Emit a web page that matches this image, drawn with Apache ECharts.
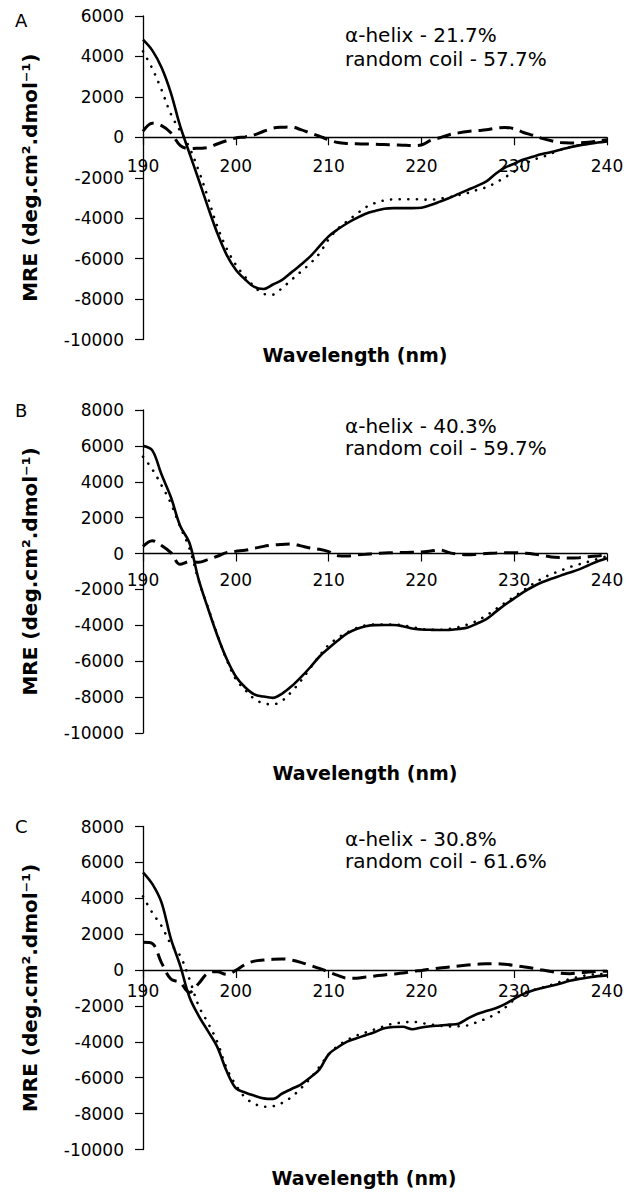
<!DOCTYPE html>
<html><head><meta charset="utf-8">
<script src="https://cdn.jsdelivr.net/npm/echarts@6/dist/echarts.min.js"></script>
<style>html,body{margin:0;padding:0;background:#fff}#c{width:629px;height:1201px}</style>
</head><body><div id="c"></div>
<script>
// ---- data ----
const wavelength = [190,191,192,193,194,195,196,197,198,199,200,201,202,203,204,205,206,207,208,209,210,211,212,213,214,215,216,217,218,219,220,221,222,223,224,225,226,227,228,229,230,231,232,233,234,235,236,237,238,239,240];
const xTicks = [190,200,210,220,230,240];
const panelLetters = ['A','B','C'];
const helixLabels = ['α-helix - 21.7%','α-helix - 40.3%','α-helix - 30.8%'];
const coilLabels = ['random coil - 57.7%','random coil - 59.7%','random coil - 61.6%'];
const yMaxes = [6000, 8000, 8000];
const yMin = -10000;

const solidA = [4830,4300,3450,2200,560,-780,-2100,-3450,-4730,-5800,-6550,-7030,-7400,-7500,-7280,-7050,-6680,-6300,-5900,-5400,-4900,-4550,-4250,-4000,-3780,-3640,-3530,-3500,-3500,-3500,-3480,-3350,-3180,-3000,-2800,-2600,-2400,-2180,-1800,-1500,-1300,-1100,-960,-830,-730,-610,-490,-400,-330,-260,-200];
const dottedA = [4250,3400,2350,1150,320,-500,-1650,-2990,-4400,-5490,-6300,-6900,-7380,-7750,-7780,-7450,-7050,-6650,-6250,-5750,-5050,-4520,-4150,-3800,-3460,-3250,-3120,-3070,-3060,-3060,-3070,-3090,-3030,-2960,-2860,-2750,-2600,-2470,-2250,-1980,-1700,-1380,-1120,-980,-800,-620,-500,-390,-300,-220,-160];
const dashedA = [300,700,580,230,-400,-560,-540,-510,-330,-170,-30,20,120,300,450,500,520,380,220,60,-120,-260,-310,-320,-330,-340,-360,-370,-390,-410,-380,-150,-20,130,220,290,330,370,450,490,420,240,100,-50,-170,-260,-280,-270,-240,-180,-120];

const solidB = [6000,5750,4400,3150,1550,600,-1450,-3050,-4550,-5850,-6850,-7450,-7850,-7970,-8040,-7800,-7400,-6900,-6350,-5750,-5280,-4850,-4450,-4200,-4050,-3990,-3985,-3985,-4050,-4180,-4230,-4250,-4260,-4260,-4200,-4120,-3900,-3650,-3250,-2850,-2500,-2150,-1850,-1600,-1400,-1230,-1060,-880,-650,-430,-260];
const dottedB = [5400,4700,3800,2800,1500,300,-1500,-3000,-4500,-5900,-7000,-7600,-8100,-8350,-8400,-8200,-7700,-7100,-6400,-5700,-5100,-4700,-4400,-4150,-4000,-3950,-3950,-3950,-4000,-4100,-4200,-4250,-4250,-4200,-4100,-3950,-3750,-3450,-3100,-2750,-2400,-2050,-1700,-1400,-1150,-950,-750,-600,-450,-300,-150];
const dashedB = [400,720,450,50,-600,-450,-480,-330,-150,50,130,180,290,400,470,510,540,430,310,240,110,-120,-130,-80,-40,0,30,50,60,70,90,140,200,50,-40,-70,-40,0,30,50,50,20,-20,-100,-190,-230,-250,-230,-180,-130,-80];

const solidC = [5450,4800,3760,1750,260,-1500,-2550,-3400,-4280,-5610,-6580,-6820,-7000,-7150,-7180,-6880,-6630,-6380,-6000,-5550,-4700,-4300,-3985,-3800,-3630,-3450,-3240,-3170,-3160,-3300,-3200,-3130,-3090,-3040,-2990,-2700,-2450,-2280,-2130,-1900,-1600,-1330,-1140,-1000,-880,-750,-600,-490,-410,-340,-295];
const dottedC = [4100,3200,2450,1450,800,-500,-2000,-2950,-4000,-5460,-6400,-7100,-7450,-7620,-7590,-7400,-7080,-6600,-6050,-5400,-4700,-4230,-3900,-3650,-3480,-3300,-3130,-2980,-2930,-2880,-2950,-3030,-3100,-3140,-3130,-3080,-2900,-2700,-2450,-2100,-1650,-1280,-1120,-980,-830,-650,-500,-380,-270,-230,-200];
const dashedC = [1550,1480,400,-500,-700,-1250,-750,-170,-90,-240,-20,310,500,560,600,620,560,430,260,90,-100,-300,-450,-450,-390,-330,-270,-220,-170,-80,-20,50,120,170,230,280,320,350,350,320,260,180,100,0,-80,-180,-200,-160,-110,-80,-60];

const panels = [
  {solid: solidA, dotted: dottedA, dashed: dashedA},
  {solid: solidB, dotted: dottedB, dashed: dashedB},
  {solid: solidC, dotted: dottedC, dashed: dashedC}
];

// ---- layout ----
const FONT = 'DejaVu Sans';
const gridTops = [16, 410, 826.5];
const gridHeights = [323.5, 323, 323];
const xLabelMargins = [20, 17.5, 12];
const letterY = [20, 410, 826.5];
const noteY = [[34.5, 58.5], [425.5, 448], [838.5, 861]];
const xTitlePos = [[355, 355], [365, 773], [364, 1178]];

const chart = echarts.init(document.getElementById('c'), null, {renderer: 'svg'});
const grid = [], xAxis = [], yAxis = [], series = [], graphic = [];
panels.forEach((p, i) => {
  grid.push({left: 143, top: gridTops[i], width: 464, height: gridHeights[i], containLabel: false});
  // place the x axis on the zero line (offset upward from the grid bottom)
  const zeroOffset = -gridHeights[i] * (0 - yMin) / (yMaxes[i] - yMin);
  xAxis.push({
    type: 'value', gridIndex: i, min: 190, max: 240, interval: 10,
    position: 'bottom', offset: zeroOffset,
    axisLine: {show: true, onZero: false, lineStyle: {color: '#000', width: 1.3}},
    axisTick: {show: true, length: 8, inside: false, lineStyle: {color: '#000', width: 1.2}},
    axisLabel: {color: '#000', fontFamily: FONT, fontSize: 17, margin: xLabelMargins[i], formatter: v => String(v)},
    splitLine: {show: false}
  });
  yAxis.push({
    type: 'value', gridIndex: i, min: yMin, max: yMaxes[i], interval: 2000,
    axisLine: {show: true, onZero: false, lineStyle: {color: '#000', width: 1.3}},
    axisTick: {show: true, length: 8, inside: false, lineStyle: {color: '#000', width: 1.2}},
    axisLabel: {color: '#000', fontFamily: FONT, fontSize: 17, margin: 19, formatter: v => String(v)},
    splitLine: {show: false}
  });
  const mk = (arr, name, ls) => ({
    type: 'line', name: name, xAxisIndex: i, yAxisIndex: i,
    data: wavelength.map((w, k) => [w, arr[k]]),
    showSymbol: false, symbol: 'none', smooth: 0.35, clip: false,
    lineStyle: ls, silent: true, animation: false
  });
  series.push(mk(p.dotted, 'dotted', {color: '#000', width: 2.6, type: [0.1, 8.5], cap: 'round'}));
  series.push(mk(p.dashed, 'dashed', {color: '#000', width: 3, type: [14, 7]}));
  series.push(mk(p.solid, 'solid', {color: '#000', width: 2.6, type: 'solid'}));

  graphic.push({type: 'text', x: 15, y: letterY[i], style: {text: panelLetters[i], font: '18px "' + FONT + '"', fill: '#000', textVerticalAlign: 'middle', textAlign: 'left'}});
  graphic.push({type: 'text', x: 345, y: noteY[i][0], style: {text: helixLabels[i], font: '20px "' + FONT + '"', fill: '#000', textVerticalAlign: 'middle', textAlign: 'left'}});
  graphic.push({type: 'text', x: 345, y: noteY[i][1], style: {text: coilLabels[i], font: '20px "' + FONT + '"', fill: '#000', textVerticalAlign: 'middle', textAlign: 'left'}});
  graphic.push({type: 'text', x: xTitlePos[i][0], y: xTitlePos[i][1], style: {text: 'Wavelength (nm)', font: 'bold 19px "' + FONT + '"', fill: '#000', textVerticalAlign: 'middle', textAlign: 'center'}});
  graphic.push({type: 'text', x: 30, y: gridTops[i] + gridHeights[i] / 2, rotation: Math.PI / 2,
    style: {text: 'MRE (deg.cm².dmol⁻¹)', font: 'bold 20px "' + FONT + '"', fill: '#000', textVerticalAlign: 'middle', textAlign: 'center'}});
});

chart.setOption({
  animation: false,
  backgroundColor: '#fff',
  grid, xAxis, yAxis, series, graphic
});
</script></body></html>
